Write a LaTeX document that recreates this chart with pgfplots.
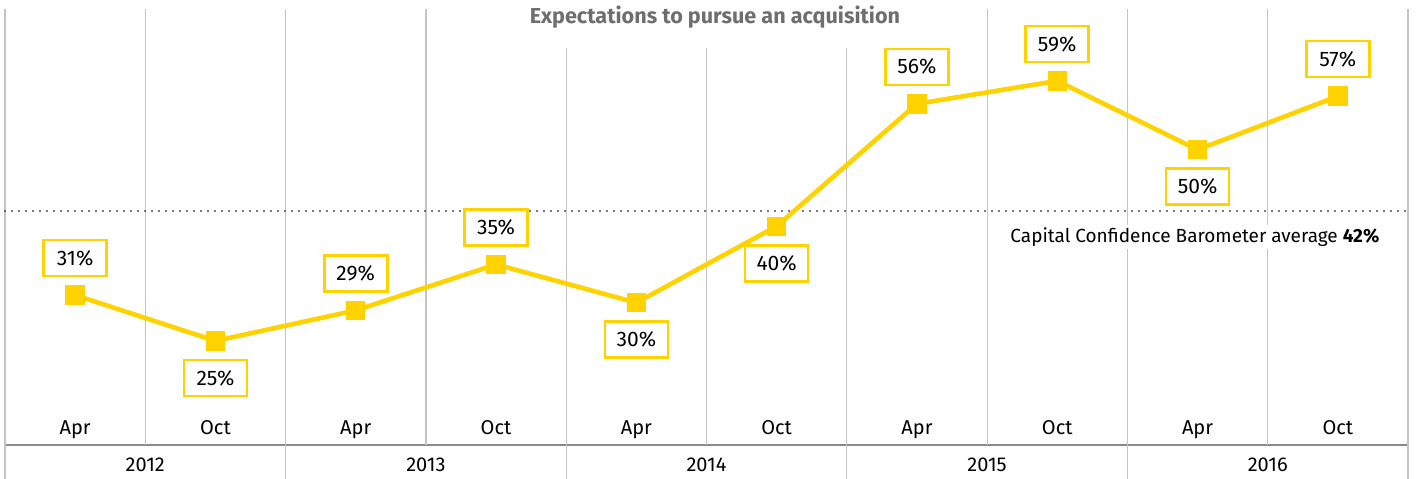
\documentclass[border=0pt]{standalone}
\usepackage{fontspec}
\setmainfont{Fira Sans}
\usepackage{pgfplots}
\pgfplotsset{compat=1.18}

\definecolor{eyYellow}{HTML}{FFD200}
\definecolor{gridGray}{HTML}{C4C4C4}
\definecolor{axisGray}{HTML}{8A8A8A}
\definecolor{titleGray}{HTML}{6E6E70}
\definecolor{dotGray}{HTML}{4A4A4A}

\begin{document}
\begin{tikzpicture}
\begin{axis}[
  scale only axis,
  width=701.5pt, height=218pt,
  xmin=0, xmax=10, ymin=11.4, ymax=68.4,
  clip=false,
  hide y axis,
  axis x line*=bottom,
  x axis line style={draw=axisGray, line width=0.7pt, -},
  xtick=\empty,
  extra x ticks={0,1,...,10},
  extra x tick labels={},
  extra x tick style={grid=major, major tick length=0pt},
  major grid style={draw=gridGray, line width=0.6pt},
  /pgf/number format/assume math mode=true,
  font=\fontsize{10}{12}\selectfont,
]
% average line
\addplot[dotGray, line width=1.1pt, line cap=round, dash pattern=on 0pt off 3.5pt]
  coordinates {(0,42) (10,42)};
\node[anchor=east, fill=white, inner sep=1.5pt, font=\fontsize{9.5}{12}\selectfont]
  at (axis cs:9.82,38.6) {Capital Confidence Barometer average \textbf{42\%}};

% main series
\addplot[
  eyYellow, line width=2.3pt,
  mark=square*, mark size=4.6pt, mark options={fill=eyYellow, draw=eyYellow, line width=0pt},
  visualization depends on={\thisrow{d} \as \dir},
  nodes near coords={\pgfmathprintnumber[fixed,precision=0]{\pgfplotspointmeta}\%},
  nodes near coords style={
    anchor=center, yshift=\dir*18.5pt, fill=white, draw=eyYellow, line width=1.3pt,
    text=black, minimum width=31.5pt, minimum height=18pt, inner sep=1pt,
    font=\fontsize{10.5}{12}\selectfont},
] table[x=x, y=y] {
x   y   d
0.5 31  1
1.5 25 -1
2.5 29  1
3.5 35  1
4.5 30 -1
5.5 40 -1
6.5 56  1
7.5 59  1
8.5 50 -1
9.5 57  1
};

% title with white backing
\fill[white] (axis cs:3.6,63.3) rectangle (axis cs:6.5,69.0);
\node[font=\fontsize{10.8}{12}\selectfont\bfseries, text=titleGray]
  at (axis cs:5.06,67.37) {Expectations to pursue an acquisition};

% year separators below the axis
\pgfplotsinvokeforeach{0,2,4,6,8,10}{
  \draw[gridGray, line width=0.6pt] (axis cs:#1,11.4) -- (axis cs:#1,6.96);
}
% month labels
\pgfplotsinvokeforeach{0,2,4,6,8}{
  \node[anchor=base] at (axis cs:#1+0.5,12.75) {Apr};
  \node[anchor=base] at (axis cs:#1+1.5,12.75) {Oct};
}
% year labels
\node[anchor=base] at (axis cs:1,7.9) {2012};
\node[anchor=base] at (axis cs:3,7.9) {2013};
\node[anchor=base] at (axis cs:5,7.9) {2014};
\node[anchor=base] at (axis cs:7,7.9) {2015};
\node[anchor=base] at (axis cs:9,7.9) {2016};

\coordinate (sw) at (rel axis cs:0,0);
\coordinate (ne) at (rel axis cs:1,1);
\end{axis}
\pgfresetboundingbox
\path ([shift={(-2.5pt,-17pt)}]sw) rectangle ([shift={(8.5pt,4.5pt)}]ne);
\end{tikzpicture}
\end{document}
